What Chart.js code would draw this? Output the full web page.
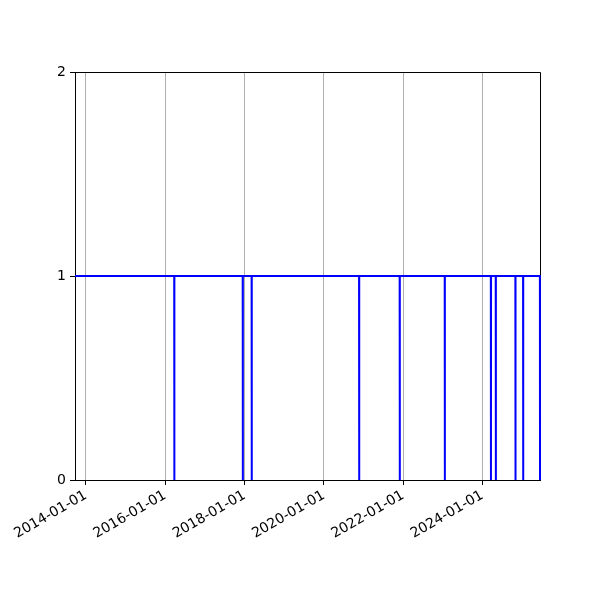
<!DOCTYPE html>
<html>
<head>
<meta charset="utf-8">
<script src="https://cdn.jsdelivr.net/npm/chart.js@4.4.1/dist/chart.umd.min.js"></script>
<style>
  html, body { margin: 0; padding: 0; background: #fff; }
  #wrap { width: 600px; height: 600px; }
</style>
</head>
<body>
<div id="wrap"><canvas id="chart" width="600" height="600"></canvas></div>
<script>
// dates of the samples and their value (1 = on, 0 = off)
const dates = [
    '2013-09-22',
    '2016-03-24', '2016-03-25', '2016-03-26',
    '2017-12-15', '2017-12-16', '2017-12-17',
    '2018-03-07', '2018-03-08', '2018-03-09',
    '2020-11-21', '2020-11-22', '2020-11-23',
    '2021-11-30', '2021-12-01', '2021-12-02',
    '2023-01-19', '2023-01-20', '2023-01-21',
    '2024-03-19', '2024-03-20', '2024-03-21',
    '2024-05-03', '2024-05-04', '2024-05-05',
    '2024-10-31', '2024-11-01', '2024-11-02',
    '2025-01-10', '2025-01-11', '2025-01-12',
    '2025-06-14', '2025-06-15'
];
const values = [
    1,
    1, 0, 1,
    1, 0, 1,
    1, 0, 1,
    1, 0, 1,
    1, 0, 1,
    1, 0, 1,
    1, 0, 1,
    1, 0, 1,
    1, 0, 1,
    1, 0, 1,
    1, 0
];
const xTickLabels = ['2014-01-01', '2016-01-01', '2018-01-01', '2020-01-01', '2022-01-01', '2024-01-01'];
const yTickValues = [0, 1, 2];

const toMs = s => Date.parse(s + 'T00:00:00Z');
const points = dates.map((d, i) => ({ x: toMs(d), y: values[i] }));

function fmtDate(ms) {
    const d = new Date(ms);
    const mm = String(d.getUTCMonth() + 1).padStart(2, '0');
    const dd = String(d.getUTCDate()).padStart(2, '0');
    return d.getUTCFullYear() + '-' + mm + '-' + dd;
}

// top/right spines, drawn under the line
const frame = {
    id: 'frame',
    beforeDatasetsDraw(chart) {
        const a = chart.chartArea;
        const ctx = chart.ctx;
        ctx.save();
        ctx.strokeStyle = '#000';
        ctx.lineWidth = 1;
        ctx.beginPath();
        ctx.moveTo(a.left, a.top + 0.5);
        ctx.lineTo(a.right + 0.5, a.top + 0.5);
        ctx.lineTo(a.right + 0.5, a.bottom);
        ctx.stroke();
        ctx.restore();
    }
};

Chart.defaults.font.family = 'DejaVu Sans';
Chart.defaults.font.size = 14;
Chart.defaults.color = '#000';

new Chart(document.getElementById('chart'), {
    type: 'line',
    data: {
        datasets: [{
            data: points,
            borderColor: '#0000ff',
            borderWidth: 2,
            pointRadius: 0,
            tension: 0,
            fill: false,
            clip: { left: 0, top: 0, right: 1, bottom: 0 }
        }]
    },
    options: {
        responsive: false,
        animation: false,
        layout: { padding: { top: 72, right: 60, left: 0, bottom: 0 } },
        plugins: { legend: { display: false }, tooltip: { enabled: false } },
        scales: {
            x: {
                type: 'linear',
                min: toMs(dates[0]),
                max: toMs(dates[dates.length - 1]),
                afterBuildTicks(axis) {
                    axis.ticks = xTickLabels.map(s => ({ value: toMs(s) }));
                },
                afterFit(axis) { axis.height = 120; },
                ticks: {
                    callback: v => fmtDate(v),
                    minRotation: 30,
                    maxRotation: 30,
                    autoSkip: false,
                    padding: 2
                },
                grid: {
                    color: '#b0b0b0',
                    lineWidth: 1,
                    tickColor: '#000',
                    tickLength: 5
                },
                border: { color: '#000', width: 1 }
            },
            y: {
                min: 0,
                max: 2,
                afterBuildTicks(axis) {
                    axis.ticks = yTickValues.map(v => ({ value: v }));
                },
                afterFit(axis) { axis.width = 75; },
                ticks: { padding: 4 },
                grid: {
                    drawOnChartArea: false,
                    tickColor: '#000',
                    tickLength: 5
                },
                border: { color: '#000', width: 1 }
            }
        }
    },
    plugins: [frame]
});
</script>
</body>
</html>
